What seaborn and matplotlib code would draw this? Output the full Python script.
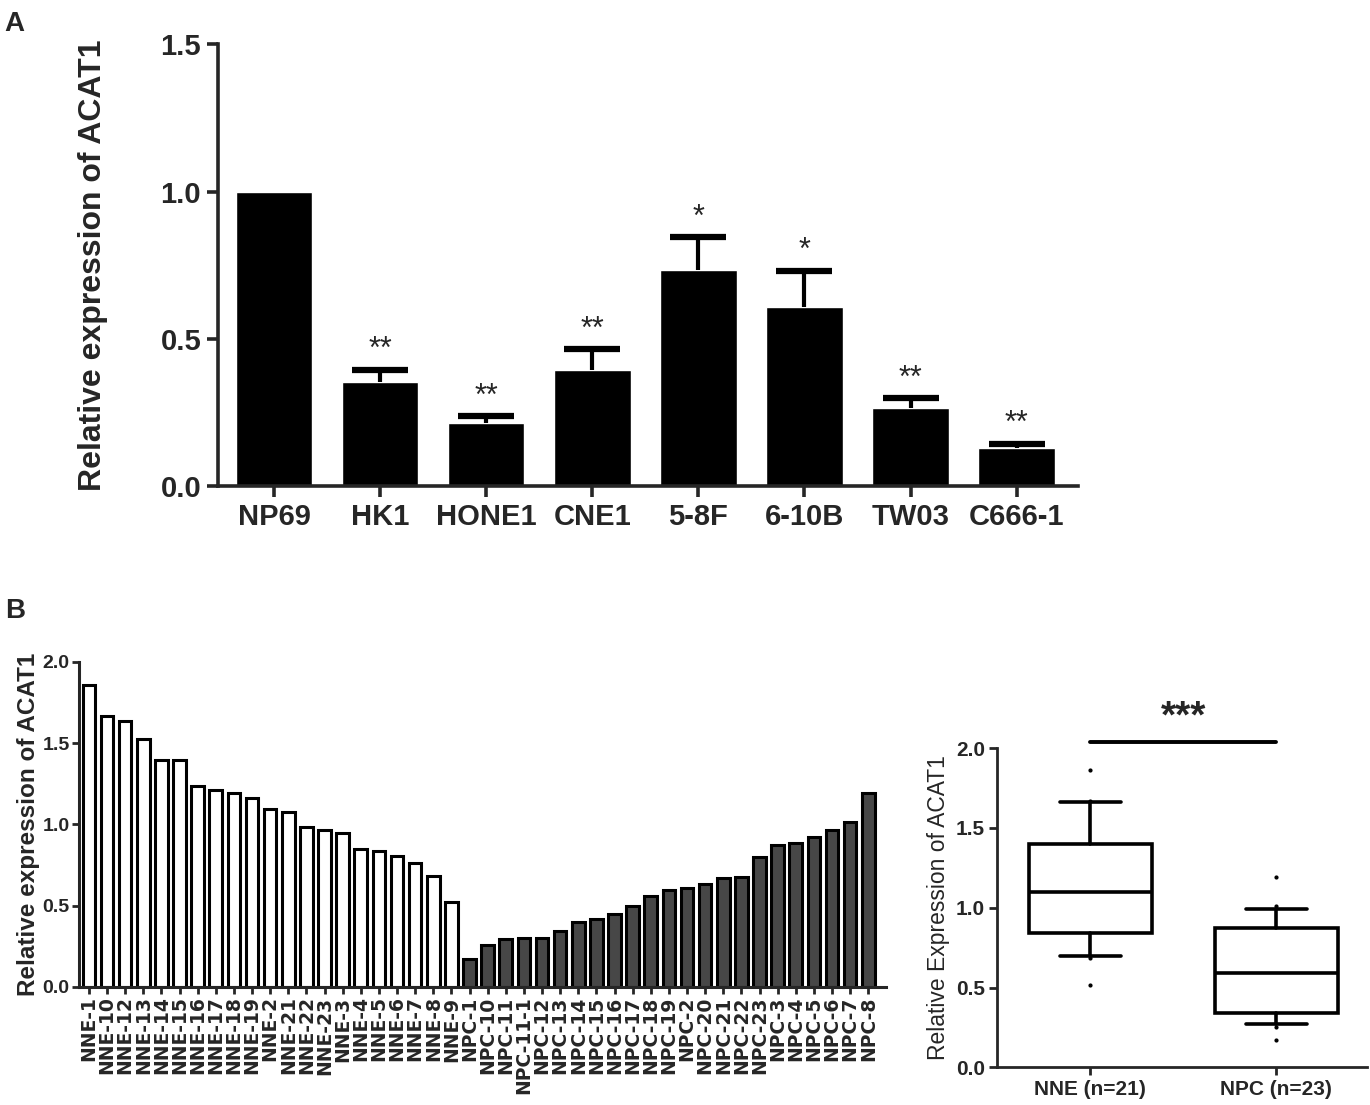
import numpy as np
import pandas as pd
import matplotlib
matplotlib.use("Agg")
import matplotlib.pyplot as plt
from matplotlib import font_manager
import seaborn as sns

sns.set_style("ticks")
plt.rcParams['font.family'] = ['Liberation Sans', 'DejaVu Sans']

names = {f.name for f in font_manager.fontManager.ttflist}
narrow = 'Liberation Sans Narrow' if 'Liberation Sans Narrow' in names else 'Liberation Sans'

# panel A: cell lines
cell_lines = ['NP69', 'HK1', 'HONE1', 'CNE1', '5-8F', '6-10B', 'TW03', 'C666-1']
cell_expr = [1.0, 0.353, 0.214, 0.395, 0.734, 0.608, 0.266, 0.130]
cell_err = [0.0, 0.043, 0.024, 0.071, 0.111, 0.124, 0.032, 0.014]
cell_sig = ['', '**', '**', '**', '*', '*', '**', '**']

# panel B: samples
nne_samples = ['NNE-1', 'NNE-10', 'NNE-12', 'NNE-13', 'NNE-14', 'NNE-15', 'NNE-16',
               'NNE-17', 'NNE-18', 'NNE-19', 'NNE-2', 'NNE-21', 'NNE-22', 'NNE-23',
               'NNE-3', 'NNE-4', 'NNE-5', 'NNE-6', 'NNE-7', 'NNE-8', 'NNE-9']
nne_expr = [1.86, 1.666, 1.637, 1.524, 1.399, 1.395, 1.235, 1.212, 1.19, 1.161, 1.097,
            1.073, 0.985, 0.964, 0.948, 0.849, 0.837, 0.804, 0.763, 0.683, 0.519]
npc_samples = ['NPC-1', 'NPC-10', 'NPC-11', 'NPC-11-1', 'NPC-12', 'NPC-13', 'NPC-14',
               'NPC-15', 'NPC-16', 'NPC-17', 'NPC-18', 'NPC-19', 'NPC-2', 'NPC-20',
               'NPC-21', 'NPC-22', 'NPC-23', 'NPC-3', 'NPC-4', 'NPC-5', 'NPC-6',
               'NPC-7', 'NPC-8']
npc_expr = [0.170, 0.256, 0.293, 0.302, 0.302, 0.343, 0.396, 0.42, 0.451, 0.498, 0.556,
            0.593, 0.609, 0.63, 0.669, 0.675, 0.798, 0.872, 0.886, 0.919, 0.964,
            1.013, 1.19]
box_labels = ['NNE (n=21)', 'NPC (n=23)']

fig = plt.figure(figsize=(13.7, 11.05), dpi=100)

# ---------------- A ----------------
axA = fig.add_axes([0.159, 0.560, 0.628, 0.400])
dfA = pd.DataFrame({'line': cell_lines, 'expr': cell_expr})
sns.barplot(data=dfA, x='line', y='expr', color='black', width=0.72,
            errorbar=None, saturation=1, ax=axA)
idx = [i for i, e in enumerate(cell_err) if e > 0]
_, caps, _ = axA.errorbar(idx, [cell_expr[i] for i in idx],
                          yerr=[np.zeros(len(idx)), [cell_err[i] for i in idx]],
                          fmt='none', ecolor='black', elinewidth=3, capsize=20,
                          capthick=4.5)
caps[0].set_visible(False)  # only the upper cap, like prism
for i, s in enumerate(cell_sig):
    if s:
        axA.text(i, cell_expr[i] + cell_err[i] + 0.015, s, ha='center', va='bottom',
                 fontsize=22)
axA.set_xlim(-0.53, 7.58)
axA.set_ylim(0, 1.5)
axA.set_yticks([0, 0.5, 1.0, 1.5])
axA.set_yticklabels(['0.0', '0.5', '1.0', '1.5'])
axA.set_xlabel('')
axA.set_ylabel('Relative expression of ACAT1', fontsize=23, fontweight='bold', labelpad=38)
sns.despine(ax=axA)
for sp in ['left', 'bottom']:
    axA.spines[sp].set_linewidth(2.6)
axA.tick_params(width=2.6, length=8, labelsize=21, pad=4)
for t in axA.get_xticklabels() + axA.get_yticklabels():
    t.set_fontweight('bold')

# ---------------- B bars ----------------
axB = fig.add_axes([0.058, 0.107, 0.589, 0.294])
dfB = pd.DataFrame({'sample': nne_samples + npc_samples,
                    'expr': nne_expr + npc_expr,
                    'group': ['NNE'] * len(nne_samples) + ['NPC'] * len(npc_samples)})
sns.barplot(data=dfB, x='sample', y='expr', hue='group', dodge=False,
            palette={'NNE': 'white', 'NPC': '#474747'}, edgecolor='black',
            linewidth=2.2, width=0.7, saturation=1, errorbar=None, legend=False, ax=axB)
axB.set_xlim(-0.52, 44.0)
axB.set_ylim(0, 2.0)
axB.set_yticks([0, 0.5, 1.0, 1.5, 2.0])
axB.set_yticklabels(['0.0', '0.5', '1.0', '1.5', '2.0'], fontsize=14,
                    fontweight='bold', family=narrow)
axB.set_xticks(range(len(dfB)))
axB.set_xticklabels(dfB['sample'], rotation=90, fontsize=13.5, fontweight='bold',
                    family='DejaVu Sans')
axB.set_xlabel('')
axB.set_ylabel('Relative expression of ACAT1', fontsize=17.5, fontweight='bold', labelpad=2)
sns.despine(ax=axB)
for sp in ['left', 'bottom']:
    axB.spines[sp].set_linewidth(2.2)
axB.tick_params(width=2.0, length=5, pad=2)

# ---------------- B box ----------------
axC = fig.add_axes([0.728, 0.034, 0.270, 0.289])
stats = []
for vals, lab in zip([nne_expr, npc_expr], box_labels):
    v = np.array(vals)
    p10, q1, med, q3, p90 = np.percentile(v, [10, 25, 50, 75, 90], method='weibull')
    stats.append({'med': med, 'q1': q1, 'q3': q3, 'whislo': p10, 'whishi': p90,
                  'fliers': v[(v < p10) | (v > p90)], 'label': lab})
lw = 2.6
axC.bxp(stats, positions=[0, 1], widths=0.66, patch_artist=True,
        boxprops=dict(facecolor='white', edgecolor='black', linewidth=lw),
        medianprops=dict(color='black', linewidth=lw),
        whiskerprops=dict(color='black', linewidth=lw),
        capprops=dict(color='black', linewidth=lw),
        flierprops=dict(marker='o', markersize=2, markerfacecolor='black',
                        markeredgecolor='black'))
axC.plot([0, 1], [2.04, 2.04], color='black', lw=2.8, clip_on=False)
axC.text(0.5, 2.08, '***', ha='center', va='bottom', fontsize=28, fontweight='bold')
axC.set_xlim(-0.5, 1.49)
axC.set_ylim(0, 2.0)
axC.set_yticks([0, 0.5, 1.0, 1.5, 2.0])
axC.set_yticklabels(['0.0', '0.5', '1.0', '1.5', '2.0'], fontsize=15,
                    fontweight='bold', family=narrow)
axC.set_xticks([0, 1])
axC.set_xticklabels(box_labels, fontsize=15, fontweight='bold', family=narrow)
axC.set_ylabel('Relative Expression of ACAT1', fontsize=16.5, labelpad=4)
sns.despine(ax=axC)
for sp in ['left', 'bottom']:
    axC.spines[sp].set_linewidth(2.0)
axC.tick_params(width=2.0, length=6, pad=3)

fig.text(0.003, 0.978, 'A', fontsize=20, fontweight='bold', va='center')
fig.text(0.004, 0.447, 'B', fontsize=20, fontweight='bold', va='center')

fig.savefig('out.png', dpi=100, facecolor='white')
